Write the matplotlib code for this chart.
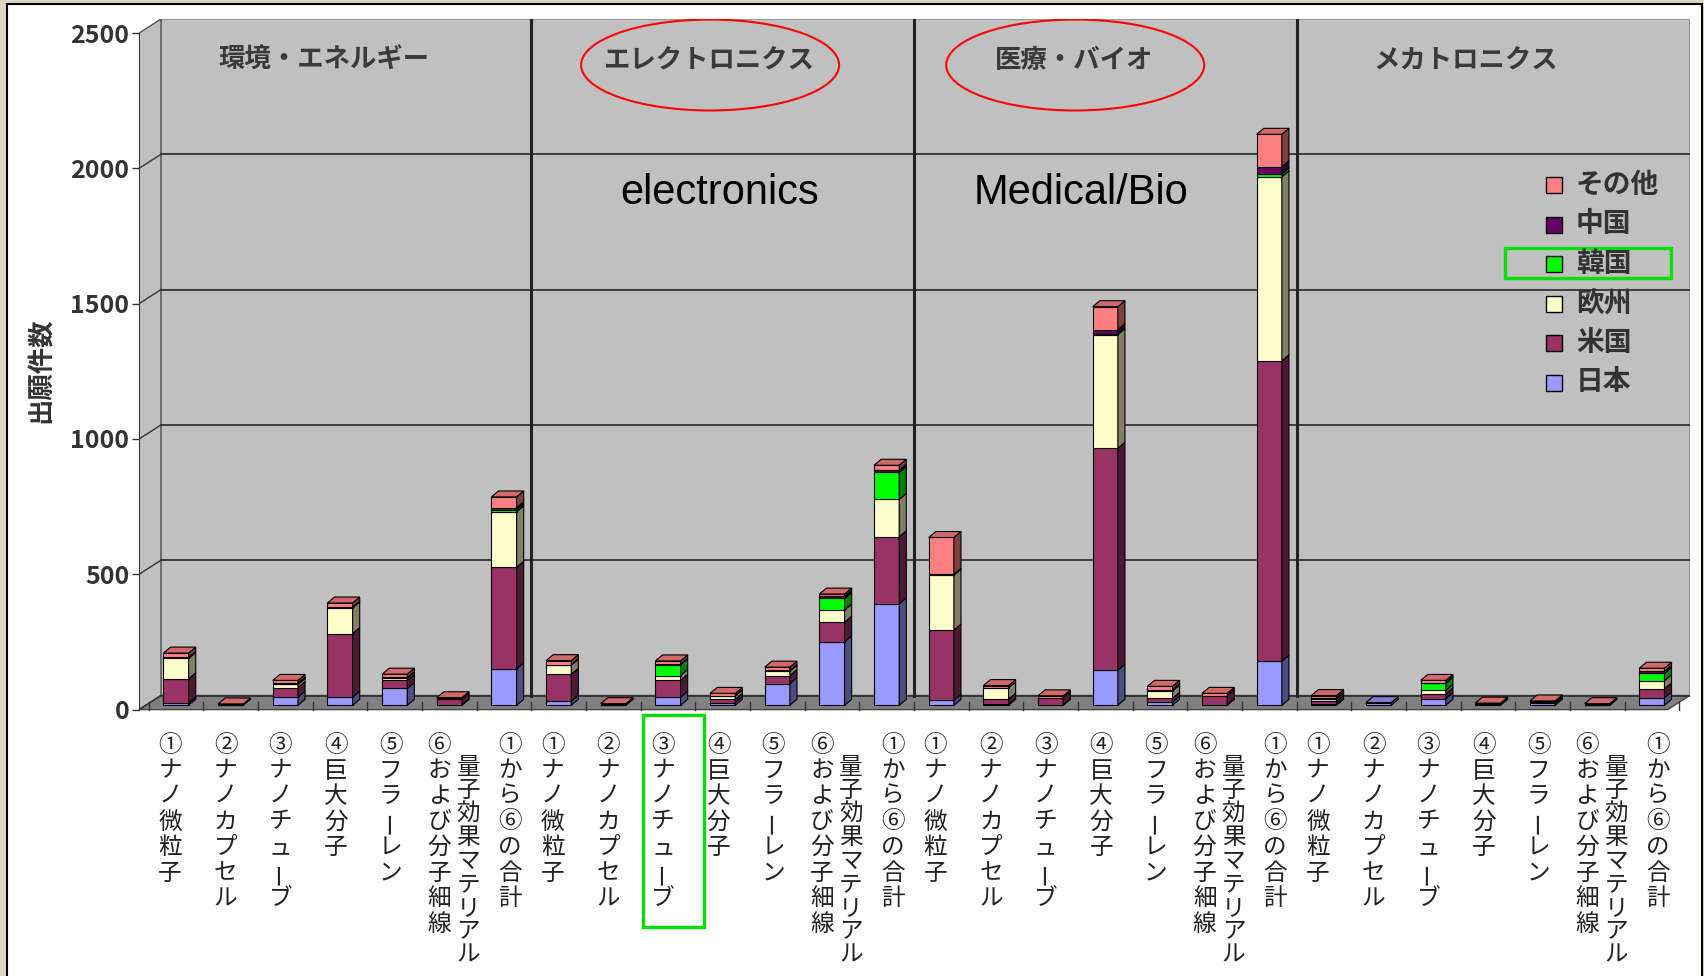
import matplotlib
matplotlib.use("Agg")
import matplotlib.pyplot as plt
import matplotlib.transforms as mtransforms
from matplotlib.patches import Polygon, Rectangle, Ellipse
from matplotlib.colors import to_rgb
import numpy as np

plt.rcParams['font.family'] = ['Noto Sans CJK JP', 'DejaVu Sans']

# 分野と技術項目
fields = ["環境・エネルギー", "エレクトロニクス", "医療・バイオ", "メカトロニクス"]
items = ["①ナノ微粒子", "②ナノカプセル", "③ナノチューブ", "④巨大分子", "⑤フラーレン",
         "⑥および分子細線\n量子効果マテリアル", "①から⑥の合計"]

# 出願人国籍 (積み上げ順: 下から)
countries = ["日本", "米国", "欧州", "韓国", "中国", "その他"]
colors = ["#9999FF", "#993366", "#FFFFCC", "#00FF00", "#660066", "#FF8080"]

# 出願件数 (4分野 x 7項目)
japan  = [8, 0, 30, 30, 62, 2, 135,   15, 0, 30, 10, 80, 235, 375,
          18, 3, 2, 130, 12, 2, 163,  3, 10, 25, 0, 8, 0, 28]
usa    = [90, 2, 35, 235, 30, 20, 375,  100, 2, 62, 12, 30, 72, 248,
          260, 20, 26, 820, 14, 34, 1110,  12, 0, 18, 3, 3, 2, 33]
europe = [75, 0, 12, 95, 8, 0, 205,  33, 0, 18, 12, 16, 45, 138,
          203, 42, 0, 420, 27, 0, 680,  8, 0, 12, 0, 0, 0, 30]
korea  = [0, 0, 2, 0, 0, 0, 8,  0, 0, 40, 0, 0, 43, 100,
          0, 0, 0, 3, 2, 0, 12,  2, 0, 27, 0, 0, 0, 27]
china  = [5, 0, 3, 3, 3, 0, 7,  2, 0, 2, 2, 3, 8, 8,
          3, 0, 0, 15, 3, 0, 25,  3, 0, 2, 0, 0, 0, 7]
other  = [15, 3, 10, 15, 12, 6, 40,  15, 4, 12, 8, 12, 8, 18,
          136, 8, 7, 85, 12, 8, 120,  8, 0, 8, 5, 5, 4, 12]
series = [japan, usa, europe, korea, china, other]


def shade(c, f):
    r, g, b = to_rgb(c)
    return (r * f, g * f, b * f)


W, H = 1704, 976
fig = plt.figure(figsize=(W / 100, H / 100), dpi=100, facecolor="#DCD7C2")
px = mtransforms.IdentityTransform()

# 白いパネルと外枠 (軸より奥に置く)
fig.patches.append(Rectangle((7, -10), 1695, H - 4 + 10, transform=px,
                             facecolor="white", edgecolor="black", lw=1.5, zorder=-5))

ax = fig.add_axes([0.08163, 0.27018, 0.90992, 0.71035])
XMIN, XMAX = -0.676, 27.69
ax.set_xlim(XMIN, XMAX)
ax.set_ylim(-10, 2552)
ax.patch.set_visible(False)

# 3D風の壁と床
WDX, WDY = 0.4, 52
wx0 = XMIN + WDX
fx1 = XMAX - WDX
wall_c = "#C0C0C0"
ax.add_patch(Rectangle((wx0, WDY), XMAX - wx0, 2500, fc=wall_c, ec="#999999", lw=1.5, zorder=1))
ax.add_patch(Polygon([(XMIN, 0), (wx0, WDY), (wx0, 2500 + WDY), (XMIN, 2500)],
                     fc=wall_c, ec="#555555", lw=1, zorder=1))
ax.add_patch(Polygon([(XMIN, 0), (fx1, 0), (XMAX, WDY), (wx0, WDY)],
                     fc="#808080", ec="#444444", lw=1, zorder=1))

for v in range(0, 2001, 500):
    ax.plot([wx0, XMAX], [v + WDY] * 2, color="#333333", lw=1.3, zorder=2)
    ax.plot([XMIN, wx0], [v, v + WDY], color="#333333", lw=1.0, zorder=2)

for d in [6.5, 13.5, 20.5]:
    ax.plot([d, d], [WDY, 2500 + WDY], color="#222222", lw=2.2, zorder=2)

for b in np.arange(-0.5, 27.6, 1.0):
    ax.plot([b, b], [0, 28], color="#333333", lw=1.0, zorder=2)

# 積み上げ棒 (前面・側面・上面)
x = np.arange(len(japan))
bw, ddx, ddy, base = 0.46, 0.13, 22, 16
bottom = np.full(len(x), float(base))
top_color = [colors[0]] * len(x)
for vals, c in zip(series, colors):
    vals = np.array(vals, float)
    ax.bar(x, vals, bw, bottom=bottom, color=c, edgecolor="black",
           linewidth=np.where(vals > 0, 0.8, 0), zorder=3)
    for i, (b0, h) in enumerate(zip(bottom, vals)):
        if h <= 0:
            continue
        xr = x[i] + bw / 2
        ax.add_patch(Polygon([(xr, b0), (xr + ddx, b0 + ddy), (xr + ddx, b0 + h + ddy), (xr, b0 + h)],
                             fc=shade(c, 0.5), ec="black", lw=0.8, zorder=3))
        top_color[i] = c
    bottom += vals

for i, t in enumerate(bottom):
    xl, xr = x[i] - bw / 2, x[i] + bw / 2
    ax.add_patch(Polygon([(xl, t), (xr, t), (xr + ddx, t + ddy), (xl + ddx, t + ddy)],
                         fc=shade(top_color[i], 0.82), ec="black", lw=0.8, zorder=3))

# 軸
ax.set_yticks(range(0, 2501, 500))
ax.set_yticklabels([str(v) for v in range(0, 2501, 500)], fontsize=18,
                   color="#333333", fontweight="bold")
ax.tick_params(axis="y", length=5, width=1, pad=2, color="#333333")
ax.set_xticks([])
for s in ["top", "right", "bottom"]:
    ax.spines[s].set_visible(False)
ax.spines["left"].set_bounds(0, 2500)
ax.spines["left"].set_color("#333333")

fig.text(41, H - 370, "出願件数", transform=px, rotation=90, fontsize=19,
         ha="center", va="center", color="#333333", fontweight="bold")

# 分野名
title_x = [2.71, 9.75, 16.43, 23.6]
for tx, name in zip(title_x, fields):
    ax.text(tx, 2400, name, ha="center", va="center", fontsize=19, color="#3a3a3a",
            fontweight="bold", zorder=4)
for tx in title_x[1:3]:
    ax.add_patch(Ellipse((tx + 0.02, 2382), 4.72, 336, fill=False, ec="red", lw=1.5, zorder=4))

ax.text(9.94, 1909, "electronics", ha="center", va="center", fontsize=30,
        family="Liberation Sans", color="black", zorder=4)
ax.text(16.56, 1909, "Medical/Bio", ha="center", va="center", fontsize=30,
        family="Liberation Sans", color="black", zorder=4)

# 凡例 (上から その他 → 日本)
for k, (name, c) in enumerate(zip(countries[::-1], colors[::-1])):
    yy = H - (185 + 39.5 * k)
    fig.patches.append(Rectangle((1546, yy - 8), 16, 16, transform=px,
                                 fc=c, ec="black", lw=1))
    fig.text(1576, yy, name, transform=px, fontsize=20, ha="left", va="center",
             color="#333333", fontweight="bold")
fig.patches.append(Rectangle((1505, H - 278), 166, 30, transform=px,
                             fill=False, ec="#00E000", lw=2.4))

# 縦書きの項目ラベル
pitch = [25.5, 23.5]
y0 = H - 745.5
label_dx = [-6, -5, -5, -4, -4, -10, 6]
for i in x:
    bx = ax.transData.transform((i, 0))[0]
    j = i % len(items)
    cols = items[j].split("\n")
    for c_idx, col in enumerate(cols):
        cx = bx + label_dx[j] + 29 * c_idx
        start = y0 - 21.7 * c_idx
        for k, ch in enumerate(col):
            cy = start - pitch[c_idx] * k
            fig.text(cx, cy, ch, transform=px, fontsize=17, ha="center", va="center",
                     rotation=90 if ch == "ー" else 0, color="#222222")

fig.patches.append(Rectangle((643, H - 927), 61, 212, transform=px,
                             fill=False, ec="#00E000", lw=2.4))

fig.savefig("out.png", dpi=100, facecolor=fig.get_facecolor())
